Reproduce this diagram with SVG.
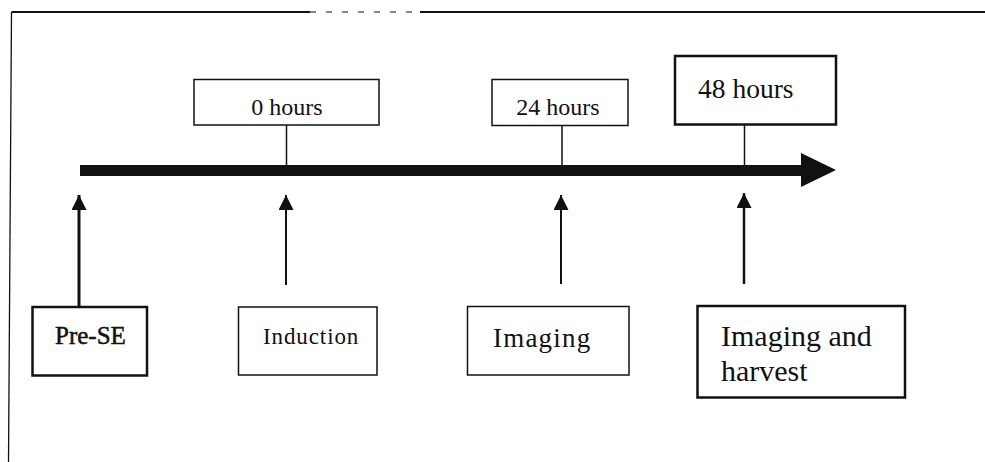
<svg xmlns="http://www.w3.org/2000/svg" width="985" height="462" viewBox="0 0 985 462">
<style>
.box{fill:#fff;stroke:#111;stroke-width:1.5}
.bold{stroke-width:2.5}
.t{font-family:"Liberation Serif","Times New Roman",serif;fill:#111}
.ln{stroke:#111;fill:none}
</style>
<defs>
<marker id="ah" markerUnits="userSpaceOnUse" markerWidth="16" markerHeight="16" refX="15" refY="7.5" orient="auto">
<path d="M0,0 L15,7.5 L0,15 Z" fill="#111"/>
</marker>
</defs>
<rect width="985" height="462" fill="#fff"/>
<g id="frame">
<path class="ln" d="M11.5,12 L310,12" stroke-width="2"/>
<path class="ln" d="M310,12 L420,12" stroke-width="1" stroke="#888" stroke-dasharray="6 10"/>
<path class="ln" d="M420,12 L985,12" stroke-width="2"/>
<path class="ln" d="M11.5,12 L8.5,462" stroke-width="1.3"/>
</g>
<g id="connectors">
<path d="M80,170.5 L802,170.5" stroke="#111" stroke-width="11"/>
<path d="M801,153 L836,170 L801,187 Z" fill="#111"/>
<line class="ln" x1="286.5" y1="125" x2="286.5" y2="165" stroke-width="1.5"/>
<line class="ln" x1="562" y1="126" x2="562" y2="165" stroke-width="1.5"/>
<line class="ln" x1="744.5" y1="125" x2="744.5" y2="165" stroke-width="1.5"/>
<line class="ln" x1="79" y1="306" x2="79" y2="195" stroke-width="3" marker-end="url(#ah)"/>
<line class="ln" x1="286" y1="285" x2="286" y2="195" stroke-width="2" marker-end="url(#ah)"/>
<line class="ln" x1="561" y1="284" x2="561" y2="195" stroke-width="2" marker-end="url(#ah)"/>
<line class="ln" x1="744" y1="284" x2="744" y2="193" stroke-width="2.5" marker-end="url(#ah)"/>
</g>
<g id="n0h">
<rect class="box" x="194" y="79.5" width="185" height="45.5"/>
<text class="t" x="287" y="115" font-size="24" text-anchor="middle">0 hours</text>
</g>
<g id="n24h">
<rect class="box" x="492" y="79.5" width="136" height="46"/>
<text class="t" x="558" y="115" font-size="24" text-anchor="middle">24 hours</text>
</g>
<g id="n48h">
<rect class="box bold" x="675" y="56" width="161" height="68.5"/>
<text class="t" x="698" y="97.5" font-size="27.5">48 hours</text>
</g>
<g id="npre">
<rect class="box bold" x="32.5" y="307" width="114.5" height="68.5"/>
<text class="t" x="55" y="343.5" font-size="25" stroke="#111" stroke-width="0.5">Pre-SE</text>
</g>
<g id="nind">
<rect class="box" x="238.5" y="307" width="138.5" height="68"/>
<text class="t" x="263" y="343.5" font-size="23" letter-spacing="0.9">Induction</text>
</g>
<g id="nimg">
<rect class="box" x="467.5" y="306.5" width="161.5" height="68.5"/>
<text class="t" x="493" y="346.5" font-size="27" letter-spacing="1.2">Imaging</text>
</g>
<g id="nharv">
<rect class="box bold" x="697.5" y="306" width="207.5" height="91.5"/>
<text class="t" x="721" y="346" font-size="30">Imaging and</text>
<text class="t" x="721" y="381" font-size="30">harvest</text>
</g>
</svg>
